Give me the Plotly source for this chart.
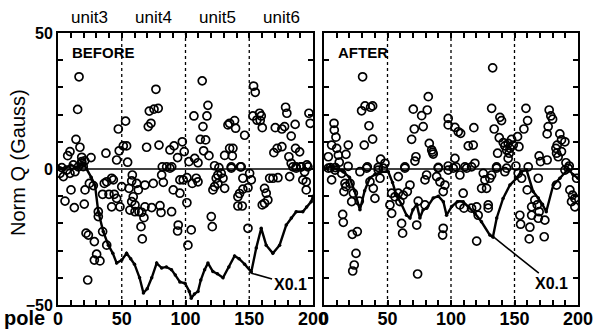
import plotly.graph_objects as go

# ---------------- data ----------------
before_pts = [
    (16.5,33.9),(15.4,21.9),(14.1,10.9),(17.2,8),(9.4,6.4),(7.6,4.9),(18.6,4.3),(18.6,2.7),(19.8,0.9),(25.9,4.2),
    (37.6,5.8),(47.3,14.7),(53,17.6),(48,6.7),(51.2,8.5),(53.8,8.5),(46,3.3),(54.6,2.5),(69.5,8),(70.8,15.6),
    (72.9,16.8),(71.6,21.3),(75.3,22),(78.6,22.3),(76.8,29.3),(79.2,8.8),(81.8,0.8),(85.2,0.8),(89.2,0.8),(87.8,7),
    (91,8.5),(93.8,4.2),(97.5,10),(99,6.4),
    (102.7,2.7),(107.2,3.9),(109.8,2.3),(113.1,32.4),(106.6,19.5),(117.6,23.4),(116.8,19.5),(113.7,15.6),(111.6,10.9),
    (115.8,10.7),(114.2,6.7),(118.4,4.9),(122.8,1.2),(126.2,0.5),(133.3,16.2),(134.6,16.8),(138.5,17.8),(139.3,15),
    (146.4,12.4),(134.6,7.6),(137.2,7.6),(130.7,5),(136.7,4.8),(135.9,0.8),(143,0.8),(153.4,30.5),(154.7,28.2),
    (152.9,19.5),(158.1,20.5),(159.4,19.5),(156,18),(158.6,17.8),(160.2,15.2),(170.4,15.2),(175.6,14.7),(177.7,15.6),
    (178.5,22.7),(179.5,20.5),(186,16.4),(182.9,12.1),(169.3,6),(171.9,7.6),(175.6,8.2),(186.3,7.6),(189.5,6.3),
    (181.1,4.5),(182.9,2.1),(184.2,0.8),(186.8,0.8),(190.7,0.8),(195.2,1.5),(196.8,20.5),(197.8,16.8),
    (1.6,-1.6),(4.2,-2.8),(6.8,-0.4),(9.4,-1.6),(13.3,-1),(15.9,0.8),(18.6,2.1),(12,1.5),(3,0.5),(21,3),
    (10.2,-7.7),(5.5,-11.8),(12.8,-14.2),(20.6,-12.9),(21.2,-7.7),(24.6,-5.3),(27.7,-6.1),(31.6,-15.7),(31.6,-17.5),
    (22,-23.6),(23.8,-24.3),(28.5,-26.7),(35,-23),(30.3,-31.3),(28.5,-33.5),(32.9,-33.8),(38.2,-28),(23.3,-40.8),
    (36.3,-5.3),(38.2,-4.7),(42.1,-3.4),(43.4,-4),(35,-9.3),(40,-9.3),(44.1,-9.3),(46,-10.8),(42.1,-13.9),(48.6,-13.9),
    (50,-6.5),(55.7,-7.1),(57.8,-4.4),(58.3,-2.2),(61.7,-5.3),(63,-7.7),(68.2,-5.9),(74.7,-5.3),(56.4,-15.1),
    (60.4,-15.7),(63.5,-15.7),(65.6,-15.9),(67.4,-17.9),(59,-10.2),(57.8,-12),(60.4,-13.2),(68.2,-13.9),(65.1,-21.2),
    (66.1,-25.7),(73.5,-14.2),(80,-13.5),(80.8,-16),(89.1,-15.7),(81.3,-2.2),(82.6,-4.9),(87.8,0.3),(90.4,-7.7),
    (95.6,-8.9),(95.6,-4),(98.2,-4),(94.3,-20.6),(93.8,-22.8),
    (101.1,-3.2),(105.3,-5.3),(108.4,-3.4),(109.8,-4.7),(101.1,-12.4),(104.5,-22.4),(101.9,-28),(124.1,-3.4),
    (125.4,-2.2),(128,-1.6),(129.4,-3.4),(125.4,-5.3),(122.8,-6.5),(121.5,-7.7),(130.7,-7.1),(135.9,0.3),(143.7,0.8),
    (145,-3.4),(150.3,-1.6),(151.6,-4),(149,-6.9),(145,-7.4),(142.4,-9),(141.1,-10.2),(141.1,-13.6),(144.5,-13.6),
    (120.2,-17.5),(121,-21.2),(149,-21.8),(160.2,-13.2),(162,-12.6),(164.6,-11.4),(163.3,-8.9),(162,-7.1),(166,-3.4),
    (168.6,-3.4),(172.5,-3.2),(181.7,-2.8),(186.8,0.3),(190.7,0.8),(193.4,-1),(196,0.8),(194.7,-4.7),(194.7,-7.7),(192,-4),
]
after_pts = [
    (30.4,33.9),(29.6,21.4),(32.3,23.2),(36.7,22.7),(38.3,23.2),(35.4,15.9),(38.3,11),(31.7,8.8),(7.9,16.8),(8.1,14.3),
    (9.4,11.7),(6,8.8),(10,7.6),(19.1,8.8),(3.4,4.5),(11.3,5.1),(17.3,5.4),(12,2.5),(19,1),(9,0.5),(5,0.5),(44.6,3.6),
    (48,2.1),(34.1,0.8),(42.7,0.6),(70.3,22),(76.9,19.6),(81.3,21.7),(82.1,26.6),(71.1,14.7),(78.1,15.6),(69,10.9),
    (82.9,9.4),(84.8,7),(86,5.5),(85.5,6.2),(72.4,4.5),(71.6,2.9),(63.7,0.8),(90,0.6),(97.8,1.1),(97.8,18.6),(97.8,16.2),
    (103.1,15.3),(105.7,13.7),(107.6,13.1),(118,15.2),(113.6,8.5),(117.5,8.8),(103.1,3.9),(103.9,0.8),(111,0.8),
    (118.8,2.1),(132.8,37.2),(132,22.3),(138.5,19),(139.8,17.8),(134,14.7),(138,11.5),(141.1,9.7),(142.4,8.5),(145,9.4),
    (147.7,10.9),(149,8.8),(146.4,7.6),(143.8,7),(145.8,5.8),(136.7,5.8),(145,3.9),(135.9,0.8),(143.8,0.3),(151.1,1.1),
    (152.4,11.9),(153.5,8.2),(159,22.3),(160.3,17.8),(157.4,14.7),(160.8,0.8),(169.4,4.8),(170.5,2.7),(175.7,3.3),
    (177.3,21.7),(178.6,19.5),(180,18.3),(176.5,15.6),(175.7,12.9),(185.7,12.9),(187,10.7),(189.7,10),(183.6,8.8),
    (182.6,7.6),(187,6.4),(184.4,4.5),(183.1,5.8),(190.5,2.3),(193.1,1.1),
    (3.4,0.3),(8.7,-0.4),(13.9,-1.6),(6,-4),(16.5,-5.3),(20.5,-5.3),(15.7,-8.3),(21.8,-12),(17.3,-6.5),(23.1,-8.9),
    (28.3,-1),(33.6,0.3),(36.2,-4.7),(38.8,-7.1),(40.1,-10.8),(42.7,-0.4),(46.7,0.3),(44.1,-3.4),(14.7,-16.7),
    (15.2,-19.6),(22.3,-24),(26.2,-23),(25.2,-31),(23.8,-35.3),(22.6,-37.5),(27.8,-11.8),(58.5,-2.8),(53.3,-8.9),
    (55.9,-10.2),(58.5,-8.9),(62.4,-9.6),(67.7,-5.9),(65.6,-8.3),(59.8,-12),(51.9,-13.2),(53.3,-16.3),(61.1,-20),
    (61.9,-23.6),(74.2,-11.8),(79.5,-13.2),(73,-20.6),(73.7,-38.6),(63.7,0.3),(79.5,-4),(80.8,-2.2),(88.7,-2.8),
    (91.3,-4.7),(95.2,-5.9),(93.9,-8.3),(90,0.3),(97.8,-0.4),(93.9,-21.8),(93.4,-24.3),
    (101.8,0.3),(107,-2.2),(112.3,0.3),(116.2,0.8),(109.6,-8.9),(107,-13.2),(110.2,-14.4),(116.2,-14.4),(120.2,-13.9),
    (129.3,-14.4),(129.3,-13.2),(121.4,-17),(125.4,-1.6),(126.7,-4),(124.1,-7.1),(128,-7.1),(130.6,-3.4),(132,-2.2),
    (135.9,0.3),(142.4,-1),(120.2,-26.5),(152.9,-1.6),(155.6,-3.4),(160,-7.7),(168.7,-3.4),(163.5,-13.9),(166,-11.4),
    (167.9,-13.2),(169.4,-15.7),(163.5,-17),(168.7,-18.1),(154.2,-17),(154.8,-20.3),(162.1,-21.4),(173.9,-18.8),
    (161.6,-25.7),(173.4,-24.9),(183.1,-5.9),(189.7,-0.4),(192.3,0.3),(193.6,-7.7),(195.7,-9.6),(197.5,-10.8),
    (197.5,-13.9),(194.9,-12),(198.9,-3.4),
]
before_pole = [p[0] for p in before_pts]
before_q = [p[1] for p in before_pts]
after_pole = [p[0] for p in after_pts]
after_q = [p[1] for p in after_pts]

# cumulative curve (scaled X0.1)
before_sum_pole = [0,5,10,15,20,22.5,26,29,31.6,35.5,39.5,43,46,50,53.8,57,60,64,67,70,73.5,77.4,81.3,85,89,92,95.6,
                   99.6,103,104.5,107,109.8,112,115,117.6,121.5,125,129.4,134,138.5,142,146.4,151.6,155.5,159.4,163.3,
                   168.5,173.8,179,183,186.8,192,195,198.6,200]
before_sum_q = [1,0,1.5,0.5,2,0,-3,-5.9,-15.7,-23,-28,-31,-34.6,-33.5,-31,-33,-35,-40,-45.6,-44,-40,-34.6,-36.4,-36,
                -37,-39,-41.5,-42,-45,-47.5,-46,-45,-40.8,-37,-34.6,-37.7,-38.5,-40,-36,-32,-33,-35,-37.9,-29,-21.8,
                -28,-31,-28,-20.6,-18,-15.7,-15.7,-14,-12,-10]
after_sum_pole = [0,5,10,15,20,24,28.3,32,36,40,45.4,50.6,54,57,61,65,67.7,70,73,75.5,78,80.8,86,90,94,96.5,100.5,
                  105,109.6,114,118.8,124,130.6,133,136,141,146.4,151.6,155,159.5,164.7,168.7,172,175,180.5,185.7,
                  192.3,196,200]
after_sum_q = [0,1,0,-1,-3,-8,-15,-8,-3.3,-2,-1,-1,-5,-9.6,-13,-17,-18,-15,-13,-18,-15,-14.4,-10.7,-10,-12,-17,-13.8,
               -12,-12,-14,-16.3,-19.4,-24.3,-25,-18,-10.8,-5.9,-3.4,-1,-0.4,-8.3,-10.7,-13,-15.7,-5.9,-3.4,0,-2,-3.4]

unit_labels = ["unit3", "unit4", "unit5", "unit6"]
unit_pos = [25, 75, 125, 175]
section_poles = [50, 100, 150]
x_ticks = [0, 50, 100, 150, 200]
y_ticks = [-50, 0, 50]
panel_titles = ["BEFORE", "AFTER"]
scale_label = "X0.1"
scale_arrow_tip = [(151.6, -38.3), (133.2, -24.9)]
scale_text_pos = [(182, -42.3), (179, -42)]

# ---------------- figure ----------------
FONT = "Liberation Sans"
fig = go.Figure()

marker_open = dict(symbol="circle-open", size=8, color="black", line=dict(width=1.7, color="black"))
fig.add_trace(go.Scatter(x=before_pole, y=before_q, mode="markers", marker=marker_open,
                         xaxis="x", yaxis="y", showlegend=False))
fig.add_trace(go.Scatter(x=after_pole, y=after_q, mode="markers", marker=marker_open,
                         xaxis="x2", yaxis="y2", showlegend=False))
fig.add_trace(go.Scatter(x=before_sum_pole, y=before_sum_q, mode="lines+markers",
                         line=dict(color="black", width=2.4), marker=dict(size=3.5, color="black"),
                         xaxis="x", yaxis="y", showlegend=False))
fig.add_trace(go.Scatter(x=after_sum_pole, y=after_sum_q, mode="lines+markers",
                         line=dict(color="black", width=2.4), marker=dict(size=3.5, color="black"),
                         xaxis="x2", yaxis="y2", showlegend=False))

W, H = 595, 330
yd = [(H - 305) / H, (H - 33) / H]
common_x = dict(range=[0, 200], tickvals=x_ticks, ticks="inside", ticklen=5, tickwidth=1.5,
                showline=True, linecolor="black", linewidth=2, mirror="allticks", showgrid=False,
                zeroline=False, automargin=False, ticklabelstandoff=-4,
                tickfont=dict(family=FONT, size=18, color="black", weight="bold"),
                minor=dict(dtick=10, ticks="inside", ticklen=5, tickwidth=1.5, tickcolor="black", showgrid=False),
                tickcolor="black", fixedrange=True)
common_y = dict(range=[-50, 50], tickvals=y_ticks, ticks="inside", ticklen=5, tickwidth=1.5,
                showline=True, linecolor="black", linewidth=2, mirror="allticks", showgrid=False,
                zeroline=False, automargin=False,
                tickfont=dict(family=FONT, size=16, color="black", weight="bold"),
                minor=dict(dtick=10, ticks="inside", ticklen=5, tickwidth=1.5, tickcolor="black", showgrid=False),
                tickcolor="black", fixedrange=True)

fig.update_layout(
    width=W, height=H, margin=dict(l=0, r=0, t=0, b=0),
    paper_bgcolor="white", plot_bgcolor="white",
    xaxis=dict(domain=[58 / W, 313 / W], anchor="y", **common_x),
    yaxis=dict(domain=yd, anchor="x", **common_y),
    xaxis2=dict(domain=[324 / W, 578 / W], anchor="y2", **common_x),
    yaxis2=dict(domain=yd, anchor="x2", showticklabels=False, **common_y),
)

for xr, yr in (("x", "y"), ("x2", "y2")):
    for p in section_poles:
        fig.add_shape(type="line", xref=xr, yref=yr, x0=p, x1=p, y0=-50, y1=50,
                      line=dict(color="black", width=1.3, dash="dot"), layer="below")
    fig.add_shape(type="line", xref=xr, yref=yr, x0=0, x1=200, y0=0, y1=0,
                  line=dict(color="black", width=1.3), layer="below")

# panel titles
for (xr, yr), t in zip((("x", "y"), ("x2", "y2")), panel_titles):
    fig.add_annotation(x=9.5, y=43, xref=xr, yref=yr, text=t, showarrow=False, xanchor="left",
                       yanchor="middle", font=dict(family=FONT, size=15, color="black", weight="bold"))

# scale labels
for (xr, yr), tip, tp in zip((("x", "y"), ("x2", "y2")), scale_arrow_tip, scale_text_pos):
    fig.add_annotation(x=tip[0], y=tip[1], xref=xr, yref=yr, ax=tp[0], ay=tp[1], axref=xr, ayref=yr,
                       text=scale_label, showarrow=True, arrowhead=0, arrowwidth=1.6, arrowcolor="black",
                       font=dict(family=FONT, size=16, color="black", weight="bold"))

# unit labels
for lab, pos in zip(unit_labels, unit_pos):
    fig.add_annotation(x=pos, y=(H - 17) / H, xref="x", yref="paper", text=lab, showarrow=False,
                       xanchor="center", yanchor="middle", font=dict(family=FONT, size=17, color="black"))

# y title and 'pole'
fig.add_annotation(x=18 / W, y=(H - 163) / H, xref="paper", yref="paper", text="Norm Q (Gauss)",
                   textangle=-90, showarrow=False, xanchor="center", yanchor="middle",
                   font=dict(family=FONT, size=20, color="black"))
fig.add_annotation(x=2 / W, y=(H - 318) / H, xref="paper", yref="paper", text="pole", xanchor="left",
                   yanchor="middle", showarrow=False,
                   font=dict(family=FONT, size=20, color="black", weight="bold"))

fig.write_html("out.html", config={"displayModeBar": False},
               post_script="document.body.style.margin='0';")
